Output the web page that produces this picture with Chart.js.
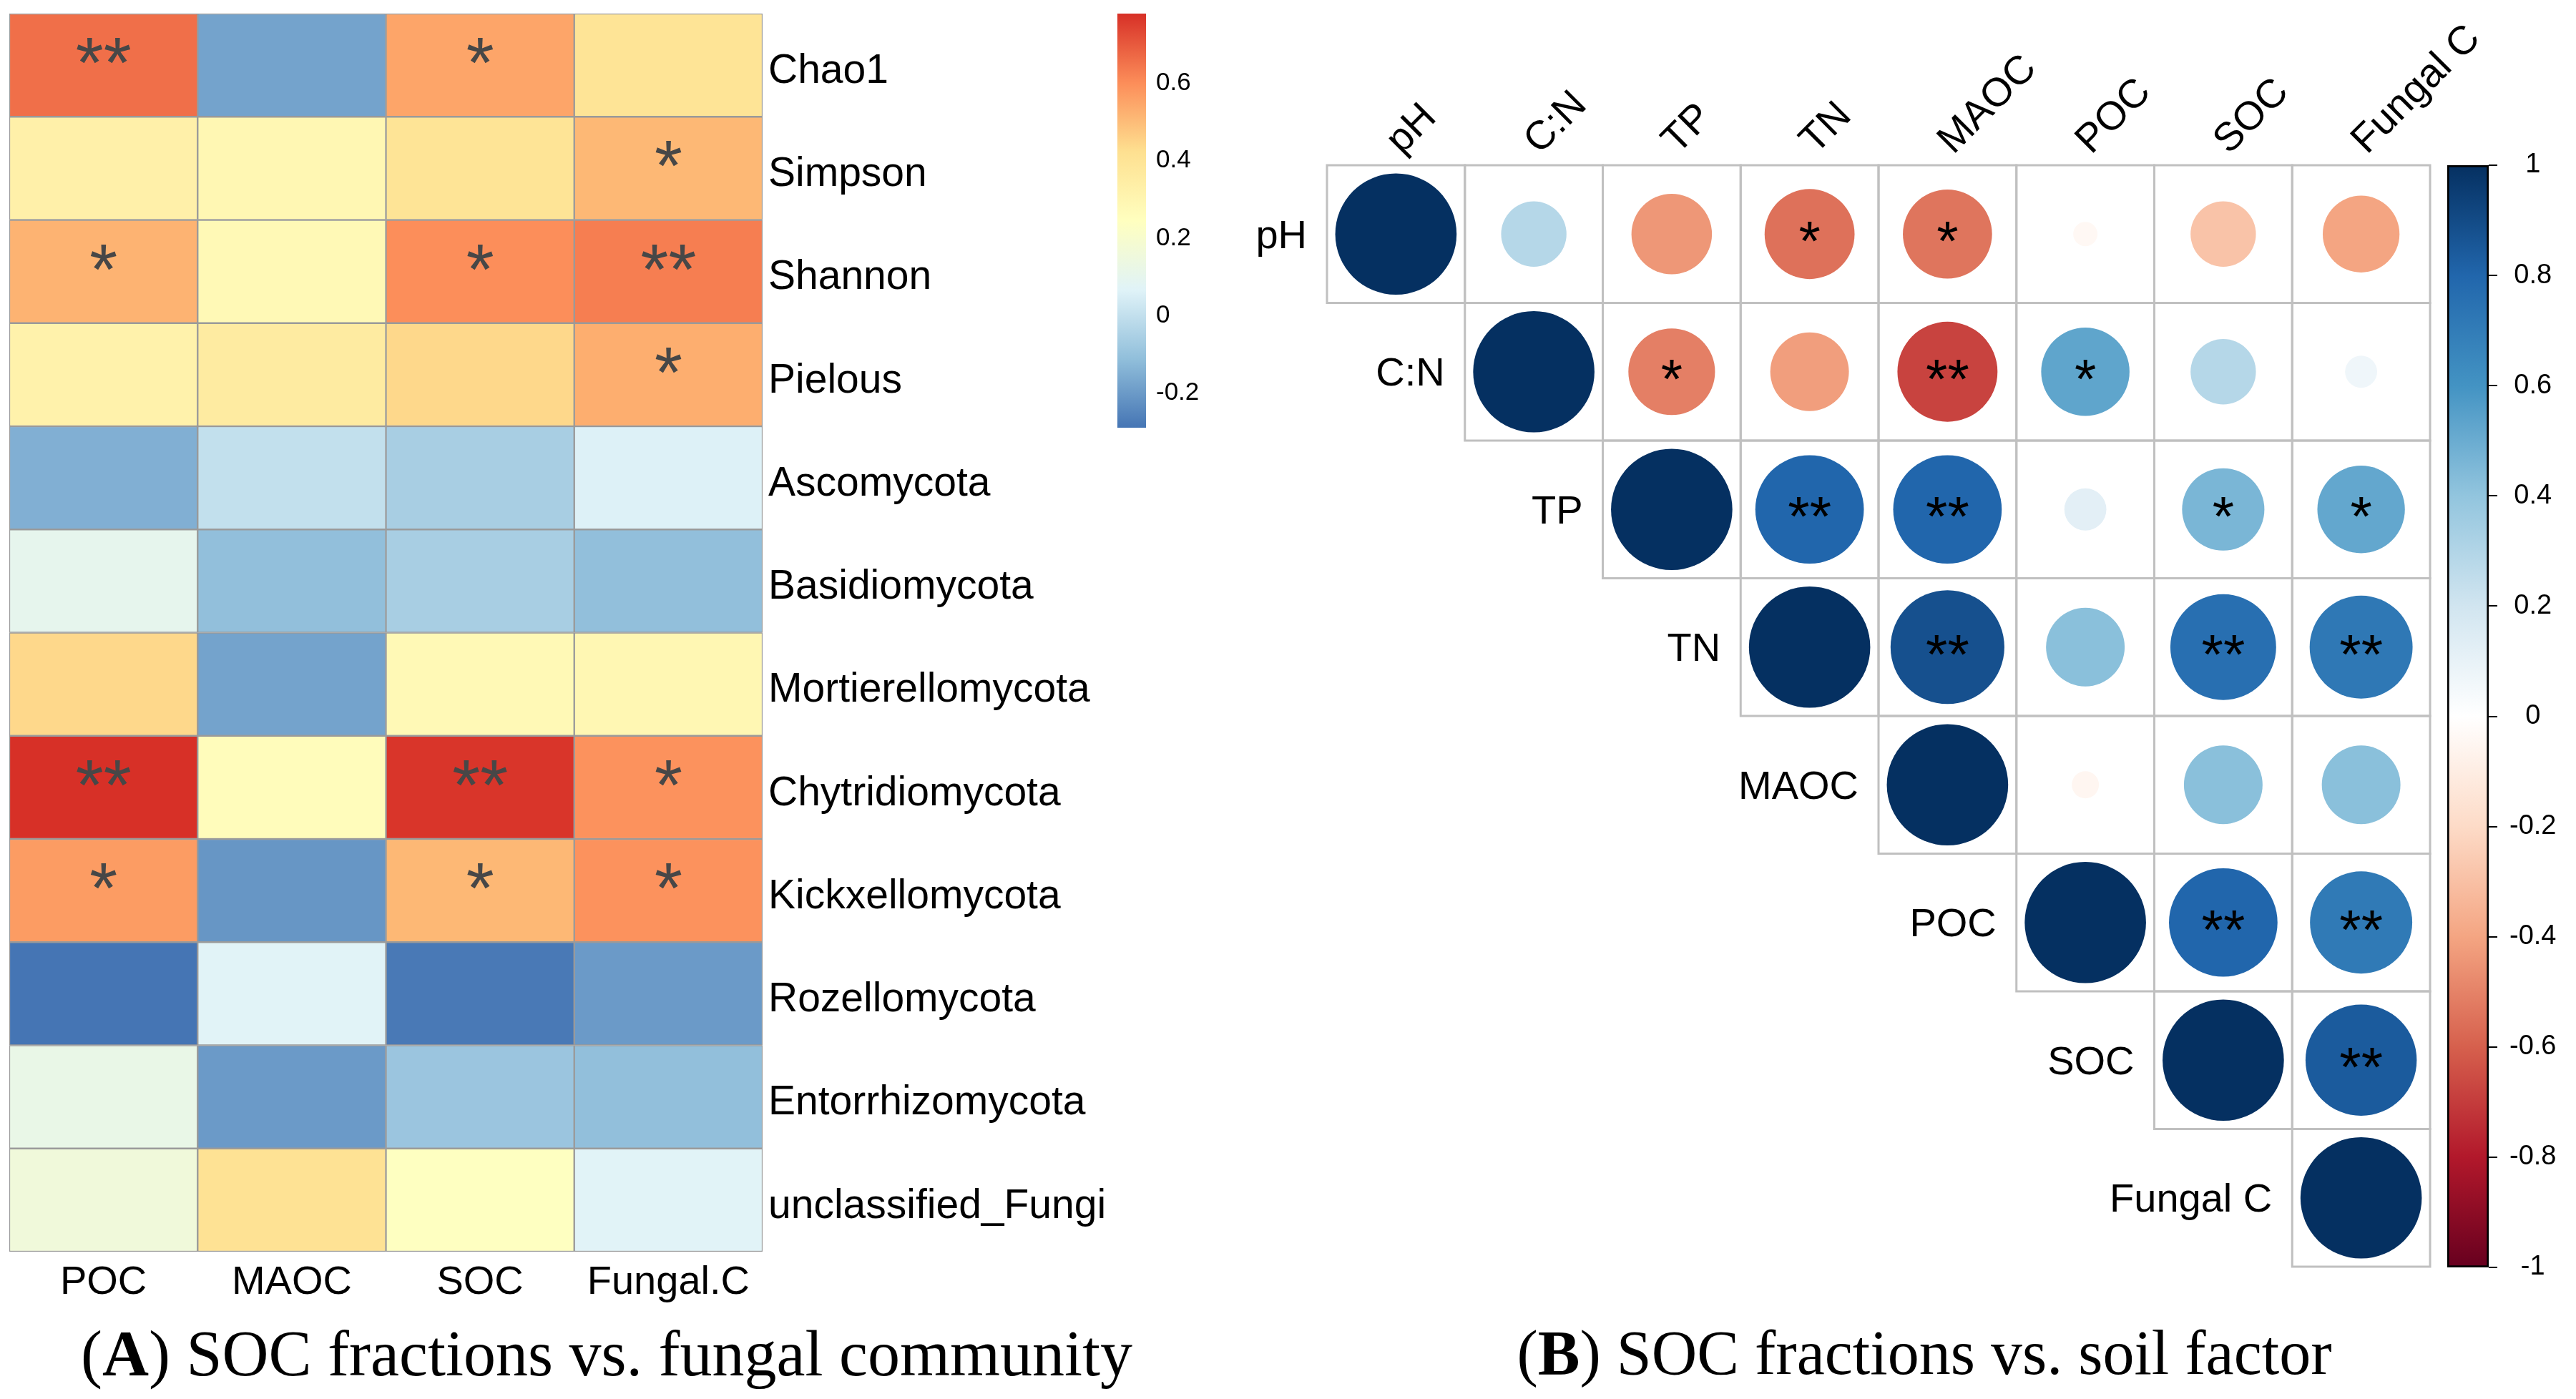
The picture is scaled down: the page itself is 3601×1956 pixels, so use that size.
<!DOCTYPE html>
<html>
<head>
<meta charset="utf-8">
<script src="https://cdn.jsdelivr.net/npm/chart.js@4.4.1/dist/chart.umd.min.js"></script>
<style>
html, body { margin: 0; padding: 0; background: #fff; width: 3601px; height: 1956px; overflow: hidden; }
.box { position: absolute; }
.cap { position: absolute; font-family: "Liberation Serif", serif; font-size: 90px; line-height: 1; color: #000; white-space: nowrap; transform: translateX(-50%); }
</style>
</head>
<body>
<div class="box" style="left:0;top:0"><canvas id="heatA" width="1560" height="1850"></canvas></div>
<div class="box" style="left:1540px;top:0"><canvas id="barA" width="200" height="640"></canvas></div>
<div class="box" style="left:1700px;top:0"><canvas id="corrB" width="1901" height="1800"></canvas></div>
<div class="box" style="left:3400px;top:0"><canvas id="barB" width="201" height="1800"></canvas></div>
<div class="cap" style="left:848px;top:1848px">(<b>A</b>) SOC fractions vs. fungal community</div>
<div class="cap" style="left:2690px;top:1848px;font-size:88px">(<b>B</b>) SOC fractions vs. soil factor</div>
<script>
// ---- panel A: SOC fractions vs fungal community ----
const rowsA = ['Chao1', 'Simpson', 'Shannon', 'Pielous', 'Ascomycota', 'Basidiomycota',
  'Mortierellomycota', 'Chytridiomycota', 'Kickxellomycota', 'Rozellomycota',
  'Entorrhizomycota', 'unclassified_Fungi'];
const colsA = ['POC', 'MAOC', 'SOC', 'Fungal.C'];
const pocA    = [0.66, 0.33, 0.52, 0.32, -0.15, 0.10, 0.44, 0.78, 0.57, -0.29, 0.12, 0.16];
const maocA   = [-0.18, 0.29, 0.28, 0.36, 0.00, -0.11, -0.18, 0.26, -0.21, 0.07, -0.20, 0.41];
const socA    = [0.55, 0.40, 0.60, 0.44, -0.06, -0.06, 0.28, 0.77, 0.51, -0.28, -0.09, 0.24];
const fungalA = [0.40, 0.51, 0.63, 0.53, 0.06, -0.11, 0.29, 0.59, 0.59, -0.20, -0.11, 0.07];
const pocStarA    = ['**', '', '*', '', '', '', '', '**', '*', '', '', ''];
const maocStarA   = ['', '', '', '', '', '', '', '', '', '', '', ''];
const socStarA    = ['*', '', '*', '', '', '', '', '**', '*', '', '', ''];
const fungalStarA = ['', '*', '**', '*', '', '', '', '*', '*', '', '', ''];
const ticksA = [-0.2, 0, 0.2, 0.4, 0.6];

// ---- panel B: SOC fractions vs soil factor (upper triangle, from the diagonal) ----
const varsB = ['pH', 'C:N', 'TP', 'TN', 'MAOC', 'POC', 'SOC', 'Fungal C'];
const rPH     = [1, 0.29, -0.44, -0.55, -0.54, -0.04, -0.29, -0.40];
const rCN     = [1, -0.51, -0.42, -0.68, 0.53, 0.29, 0.07];
const rTP     = [1, 0.80, 0.80, 0.12, 0.46, 0.52];
const rTN     = [1, 0.88, 0.42, 0.76, 0.72];
const rMAOC   = [1, -0.05, 0.42, 0.42];
const rPOC    = [1, 0.80, 0.71];
const rSOC    = [1, 0.84];
const rFungal = [1];
const sPH     = ['', '', '', '*', '*', '', '', ''];
const sCN     = ['', '*', '', '**', '*', '', ''];
const sTP     = ['', '**', '**', '', '*', '*'];
const sTN     = ['', '**', '', '**', '**'];
const sMAOC   = ['', '', '', ''];
const sPOC    = ['', '**', '**'];
const sSOC    = ['', '**'];
const sFungal = [''];

const paletteA = ['#4575B4', '#91BFDB', '#E0F3F8', '#FFFFBF', '#FEE090', '#FC8D59', '#D73027'];
const paletteB = ['#67001F', '#B2182B', '#D6604D', '#F4A582', '#FDDBC7', '#FFFFFF',
  '#D1E5F0', '#92C5DE', '#4393C3', '#2166AC', '#053061'];
const SANS = '"Liberation Sans", Arial, sans-serif';

const colA = [pocA, maocA, socA, fungalA];
const starA = [pocStarA, maocStarA, socStarA, fungalStarA];
const allA = colA.flat();
const minA = Math.min(...allA), maxA = Math.max(...allA);

function hex(c) { return [1, 3, 5].map(k => parseInt(c.slice(k, k + 2), 16)); }
function ramp(pal, t) {
  t = Math.max(0, Math.min(1, t));
  const n = pal.length - 1;
  const k = Math.min(Math.floor(t * n), n - 1);
  const f = t * n - k;
  const a = hex(pal[k]), b = hex(pal[k + 1]);
  const m = a.map((v, i) => Math.round(v + (b[i] - v) * f));
  return `rgb(${m[0]},${m[1]},${m[2]})`;
}
const colorA = v => ramp(paletteA, (v - minA) / (maxA - minA));
const colorB = v => ramp(paletteB, (v + 1) / 2);

// vertical gradient along a value scale, for the colour keys
function keyGradient(c, pal, lo, hi) {
  const ys = c.chart.scales.y;
  if (!ys) return pal[0];
  const p0 = ys.getPixelForValue(lo), p1 = ys.getPixelForValue(hi);
  if (!isFinite(p0) || !isFinite(p1) || p0 === p1) return pal[0];
  const g = c.chart.ctx.createLinearGradient(0, p0, 0, p1);
  pal.forEach((col, k) => g.addColorStop(k / (pal.length - 1), col));
  return g;
}
const noEdgePad = s => { s.paddingTop = 0; s.paddingBottom = 0; s.paddingLeft = 0; s.paddingRight = 0; };

Chart.defaults.font.family = SANS;
Chart.defaults.color = '#000';

// stars drawn on top of the heatmap cells
const starsAPlugin = {
  id: 'starsA',
  afterDatasetsDraw(chart) {
    const ctx = chart.ctx;
    ctx.save();
    ctx.font = '100px ' + SANS;
    ctx.fillStyle = '#474747';
    ctx.textAlign = 'center';
    ctx.textBaseline = 'alphabetic';
    chart.data.datasets.forEach((ds, i) => {
      chart.getDatasetMeta(i).data.forEach((bar, j) => {
        const s = starA[j][i];
        if (!s) return;
        const cy = (bar.y + bar.base) / 2;
        ctx.fillText(s, bar.x, cy + 58 - 27);
      });
    });
    ctx.restore();
  }
};

new Chart(document.getElementById('heatA'), {
  type: 'bar',
  data: {
    labels: colsA,
    datasets: rowsA.map((name, i) => ({
      label: name,
      data: colsA.map(() => 1),
      backgroundColor: c => colorA(colA[c.dataIndex][i]),
      borderColor: '#9a9a9a',
      borderWidth: 1.5,
      borderSkipped: false,
      barPercentage: 1,
      categoryPercentage: 1,
      stack: 'rows'
    }))
  },
  options: {
    responsive: false,
    devicePixelRatio: 1,
    animation: false,
    events: [],
    layout: { padding: { left: 13, top: 19, right: 0, bottom: 0 } },
    plugins: { legend: { display: false }, tooltip: { enabled: false } },
    scales: {
      x: {
        stacked: true,
        grid: { display: false, drawTicks: false },
        border: { display: false },
        ticks: { font: { size: 56 }, padding: 10 },
        afterFit: s => { noEdgePad(s); s.height = 100; }
      },
      y: {
        stacked: true,
        min: 0, max: 12, reverse: true,
        position: 'right',
        grid: { display: false, drawTicks: false },
        border: { display: false },
        afterBuildTicks: s => { s.ticks = rowsA.map((_, i) => ({ value: i + 0.5 })); },
        ticks: { autoSkip: false, font: { size: 57 }, padding: 8, labelOffset: 9, callback: (v, i) => rowsA[i] },
        afterFit: s => { noEdgePad(s); s.width = 494; }
      }
    }
  },
  plugins: [starsAPlugin]
});

// colour key for panel A
new Chart(document.getElementById('barA'), {
  type: 'bar',
  data: {
    labels: [''],
    datasets: [{
      data: [[minA, maxA]],
      barPercentage: 1,
      categoryPercentage: 1,
      borderWidth: 0,
      backgroundColor: c => keyGradient(c, paletteA, minA, maxA)
    }]
  },
  options: {
    responsive: false,
    devicePixelRatio: 1,
    animation: false,
    events: [],
    layout: { padding: { left: 22, top: 19, right: 0, bottom: 42 } },
    plugins: { legend: { display: false }, tooltip: { enabled: false } },
    scales: {
      x: { display: false },
      y: {
        min: minA, max: maxA,
        position: 'right',
        grid: { display: false, drawTicks: false },
        border: { display: false },
        afterBuildTicks: s => { s.ticks = ticksA.map(v => ({ value: v })); },
        ticks: { font: { size: 35 }, padding: 14, callback: v => (v === 0 ? '0' : v.toFixed(1)) },
        afterFit: s => { noEdgePad(s); s.width = 138; }
      }
    }
  }
});

// ---- panel B ----
const rowsB = [rPH, rCN, rTP, rTN, rMAOC, rPOC, rSOC, rFungal];
const starsB = [sPH, sCN, sTP, sTN, sMAOC, sPOC, sSOC, sFungal];
const pointsB = [];
rowsB.forEach((row, i) => row.forEach((v, k) => {
  pointsB.push({ x: i + k + 0.5, y: i + 0.5, v: v, s: starsB[i][k] });
}));

const cellW = chart => Math.abs(chart.scales.x.getPixelForValue(1) - chart.scales.x.getPixelForValue(0));
const radiusB = c => {
  if (!c.raw) return 0;
  const w = cellW(c.chart);
  return isFinite(w) ? 0.44 * w * Math.sqrt(Math.abs(c.raw.v)) : 0;
};

const corrGridPlugin = {
  id: 'corrGrid',
  beforeDatasetsDraw(chart) {
    const { ctx, scales: { x, y } } = chart;
    ctx.save();
    ctx.strokeStyle = '#c0c0c0';
    ctx.lineWidth = 3;
    rowsB.forEach((row, i) => row.forEach((v, k) => {
      const j = i + k;
      const x0 = x.getPixelForValue(j), x1 = x.getPixelForValue(j + 1);
      const y0 = y.getPixelForValue(i), y1 = y.getPixelForValue(i + 1);
      ctx.strokeRect(x0, y0, x1 - x0, y1 - y0);
    }));
    ctx.restore();
  },
  afterDatasetsDraw(chart) {
    const { ctx, scales: { x, y } } = chart;
    ctx.save();
    // row labels beside the diagonal
    ctx.font = '56px ' + SANS;
    ctx.fillStyle = '#000';
    ctx.textAlign = 'right';
    ctx.textBaseline = 'middle';
    varsB.forEach((name, i) => {
      ctx.fillText(name, x.getPixelForValue(i) - 28, y.getPixelForValue(i + 0.5) + 4);
    });
    // rotated column labels
    ctx.textAlign = 'left';
    ctx.textBaseline = 'alphabetic';
    varsB.forEach((name, j) => {
      ctx.save();
      ctx.translate(x.getPixelForValue(j + 0.5) + 8, y.getPixelForValue(0) - 14);
      ctx.rotate(-Math.PI / 4);
      ctx.fillText(name, 0, 0);
      ctx.restore();
    });
    // significance marks
    ctx.font = '78px ' + SANS;
    ctx.textAlign = 'center';
    pointsB.forEach(p => {
      if (!p.s) return;
      ctx.fillText(p.s, x.getPixelForValue(p.x), y.getPixelForValue(p.y) + 37);
    });
    ctx.restore();
  }
};

new Chart(document.getElementById('corrB'), {
  type: 'scatter',
  data: {
    datasets: [{
      data: pointsB,
      pointRadius: radiusB,
      pointHoverRadius: radiusB,
      backgroundColor: c => (c.raw ? colorB(c.raw.v) : '#fff'),
      borderWidth: 0
    }]
  },
  options: {
    responsive: false,
    devicePixelRatio: 1,
    animation: false,
    events: [],
    layout: { padding: { left: 155, top: 231, right: 204, bottom: 29 } },
    plugins: { legend: { display: false }, tooltip: { enabled: false } },
    scales: {
      x: { type: 'linear', min: 0, max: 8, display: false },
      y: { type: 'linear', min: 0, max: 8, reverse: true, display: false }
    }
  },
  plugins: [corrGridPlugin]
});

// colour key for panel B
new Chart(document.getElementById('barB'), {
  type: 'bar',
  data: {
    labels: [''],
    datasets: [{
      data: [[-1, 1]],
      barPercentage: 1,
      categoryPercentage: 1,
      borderWidth: 3,
      borderColor: '#000',
      borderSkipped: false,
      backgroundColor: c => keyGradient(c, paletteB, -1, 1)
    }]
  },
  options: {
    responsive: false,
    devicePixelRatio: 1,
    animation: false,
    events: [],
    layout: { padding: { left: 21, top: 231, right: 0, bottom: 28 } },
    plugins: { legend: { display: false }, tooltip: { enabled: false } },
    scales: {
      x: { display: false },
      y: {
        min: -1, max: 1,
        position: 'right',
        grid: { drawOnChartArea: false, drawTicks: true, tickLength: 12, color: '#000', lineWidth: 2 },
        border: { display: false },
        ticks: {
          stepSize: 0.2, font: { size: 38 }, padding: 17, crossAlign: 'center',
          callback: v => (Math.abs(v) < 1e-9 ? '0' : String(Math.round(v * 10) / 10))
        },
        afterFit: s => { noEdgePad(s); s.width = 122; }
      }
    }
  }
});
</script>
</body>
</html>
